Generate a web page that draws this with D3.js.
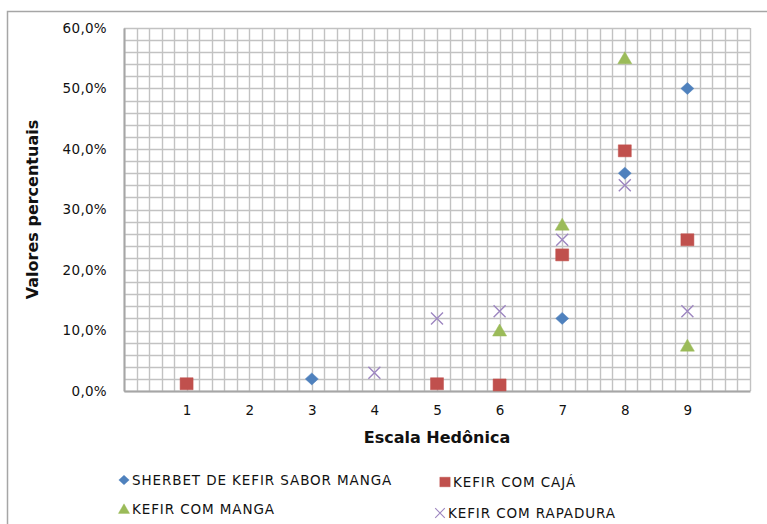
<!DOCTYPE html>
<html>
<head>
<meta charset="utf-8">
<script src="https://cdn.jsdelivr.net/npm/d3@7/dist/d3.min.js"></script>
<style>
  body { margin: 0; background: #fff; }
  text { font-family: "DejaVu Sans", Verdana, sans-serif; fill: #111; }
</style>
</head>
<body>
<div id="chart"></div>
<script>
// data
const xTicks = [1, 2, 3, 4, 5, 6, 7, 8, 9];
const yTicks = [0, 0.1, 0.2, 0.3, 0.4, 0.5, 0.6];

const sherbetX = [3, 7, 8, 9];
const sherbetY = [0.02, 0.12, 0.36, 0.50];

const cajaX = [1, 5, 6, 7, 8, 9];
const cajaY = [0.012, 0.012, 0.01, 0.225, 0.397, 0.25];

const mangaX = [6, 7, 8, 9];
const mangaY = [0.10, 0.275, 0.55, 0.075];

const rapaduraX = [4, 5, 6, 7, 8, 9];
const rapaduraY = [0.03, 0.12, 0.132, 0.25, 0.34, 0.132];

const seriesNames = ["SHERBET DE KEFIR SABOR MANGA", "KEFIR COM CAJÁ", "KEFIR COM MANGA", "KEFIR COM RAPADURA"];

scatterChart();

function scatterChart() {
    let W = 767, H = 524;
    let margin = { top: 28, right: 17, bottom: 133, left: 124 },
        width = W - margin.left - margin.right,
        height = H - margin.top - margin.bottom;

    let root = d3.select("#chart").append("svg")
        .attr("width", W)
        .attr("height", H);

    // outer chart border (runs off the right and bottom edges)
    root.append("rect")
        .attr("x", 7.5).attr("y", 11.5)
        .attr("width", W).attr("height", H)
        .attr("fill", "none")
        .attr("stroke", "#a6a6a6")
        .attr("stroke-width", 1.5);

    let svg = root.append("g")
        .attr("transform", "translate(" + margin.left + "," + margin.top + ")");

    let x = d3.scaleLinear().domain([0, 10]).range([0, width]);
    let y = d3.scaleLinear().domain([0, 0.6]).range([height, 0]);

    // minor grid every 0.2 on x and 2% on y
    let gx = d3.range(0, 50.5).map(d => d / 5);
    let gy = d3.range(0, 30.5).map(d => d / 50);

    svg.append("g").selectAll("line")
        .data(gx).enter().append("line")
        .attr("x1", d => Math.round(x(d)) + 0.5).attr("x2", d => Math.round(x(d)) + 0.5)
        .attr("y1", 0).attr("y2", height)
        .attr("stroke", "#c2c2c2").attr("stroke-width", 1.4);

    svg.append("g").selectAll("line")
        .data(gy).enter().append("line")
        .attr("y1", d => Math.round(y(d)) + 0.5).attr("y2", d => Math.round(y(d)) + 0.5)
        .attr("x1", 0).attr("x2", width)
        .attr("stroke", "#c2c2c2").attr("stroke-width", 1.4);

    // axes
    let fmt = d => d3.format(".1f")(d * 100).replace(".", ",") + "%";

    let yAxis = svg.append("g")
        .call(d3.axisLeft(y).tickValues(yTicks).tickFormat(fmt).tickSize(0).tickPadding(17));
    yAxis.select(".domain").attr("stroke", "#a6a6a6").attr("stroke-width", 2);
    yAxis.selectAll("text").style("font-size", "13.5px").style("letter-spacing", "0.3px").attr("fill", "#111");

    let xAxis = svg.append("g")
        .attr("transform", "translate(0," + height + ")")
        .call(d3.axisBottom(x).tickValues(xTicks).tickFormat(d3.format("d")).tickSize(0).tickPadding(14));
    xAxis.select(".domain").attr("stroke", "#a6a6a6").attr("stroke-width", 2);
    xAxis.selectAll("text").style("font-size", "13.5px").attr("fill", "#111");

    // axis titles
    root.append("text")
        .attr("x", (margin.left + x(5)))
        .attr("y", 443)
        .style("text-anchor", "middle")
        .style("font-size", "16px")
        .style("font-weight", "bold")
        .text("Escala Hedônica");

    root.append("text")
        .attr("transform", "translate(38," + (margin.top + y(0.3)) + ") rotate(-90)")
        .style("text-anchor", "middle")
        .style("font-size", "16px")
        .style("font-weight", "bold")
        .text("Valores percentuais");

    // marker shapes
    let shapes = {
        diamond: "M0,-6L6.5,0L0,6L-6.5,0Z",
        square: "M-6.5,-6H6.5V6H-6.5Z",
        triangle: "M0,-6.5L7,5.5H-7Z",
        cross: "M-6,-6L6,6M-6,6L6,-6"
    };

    let series = [
        { xs: sherbetX, ys: sherbetY, shape: "diamond", color: "#4f81bd" },
        { xs: cajaX, ys: cajaY, shape: "square", color: "#c0504d" },
        { xs: mangaX, ys: mangaY, shape: "triangle", color: "#9bbb59" },
        { xs: rapaduraX, ys: rapaduraY, shape: "cross", color: "#9d86c0" }
    ];

    series.forEach(function(s) {
        let pts = s.xs.map((v, i) => [v, s.ys[i]]);
        svg.append("g").selectAll("path")
            .data(pts).enter().append("path")
            .attr("d", shapes[s.shape])
            .attr("transform", d => "translate(" + x(d[0]) + "," + y(d[1]) + ")")
            .attr("fill", s.shape == "cross" ? "none" : s.color)
            .attr("stroke", s.color)
            .attr("stroke-width", s.shape == "cross" ? 1.4 : 0.5);
    });

    // legend (2 x 2)
    let legendPos = [[124, 480], [445, 482], [124, 509], [440, 513]];
    let legend = root.append("g");
    series.forEach(function(s, i) {
        let p = legendPos[i];
        let g = legend.append("g").attr("transform", "translate(" + p[0] + "," + p[1] + ")");
        g.append("path")
            .attr("d", shapes[s.shape])
            .attr("transform", "scale(0.8)")
            .attr("fill", s.shape == "cross" ? "none" : s.color)
            .attr("stroke", s.color)
            .attr("stroke-width", s.shape == "cross" ? 1.4 : 0.5);
        g.append("text")
            .attr("x", 8)
            .attr("dy", "0.36em")
            .style("font-size", "13.5px")
            .style("letter-spacing", "0.9px")
            .text(seriesNames[i]);
    });
}
</script>
</body>
</html>
